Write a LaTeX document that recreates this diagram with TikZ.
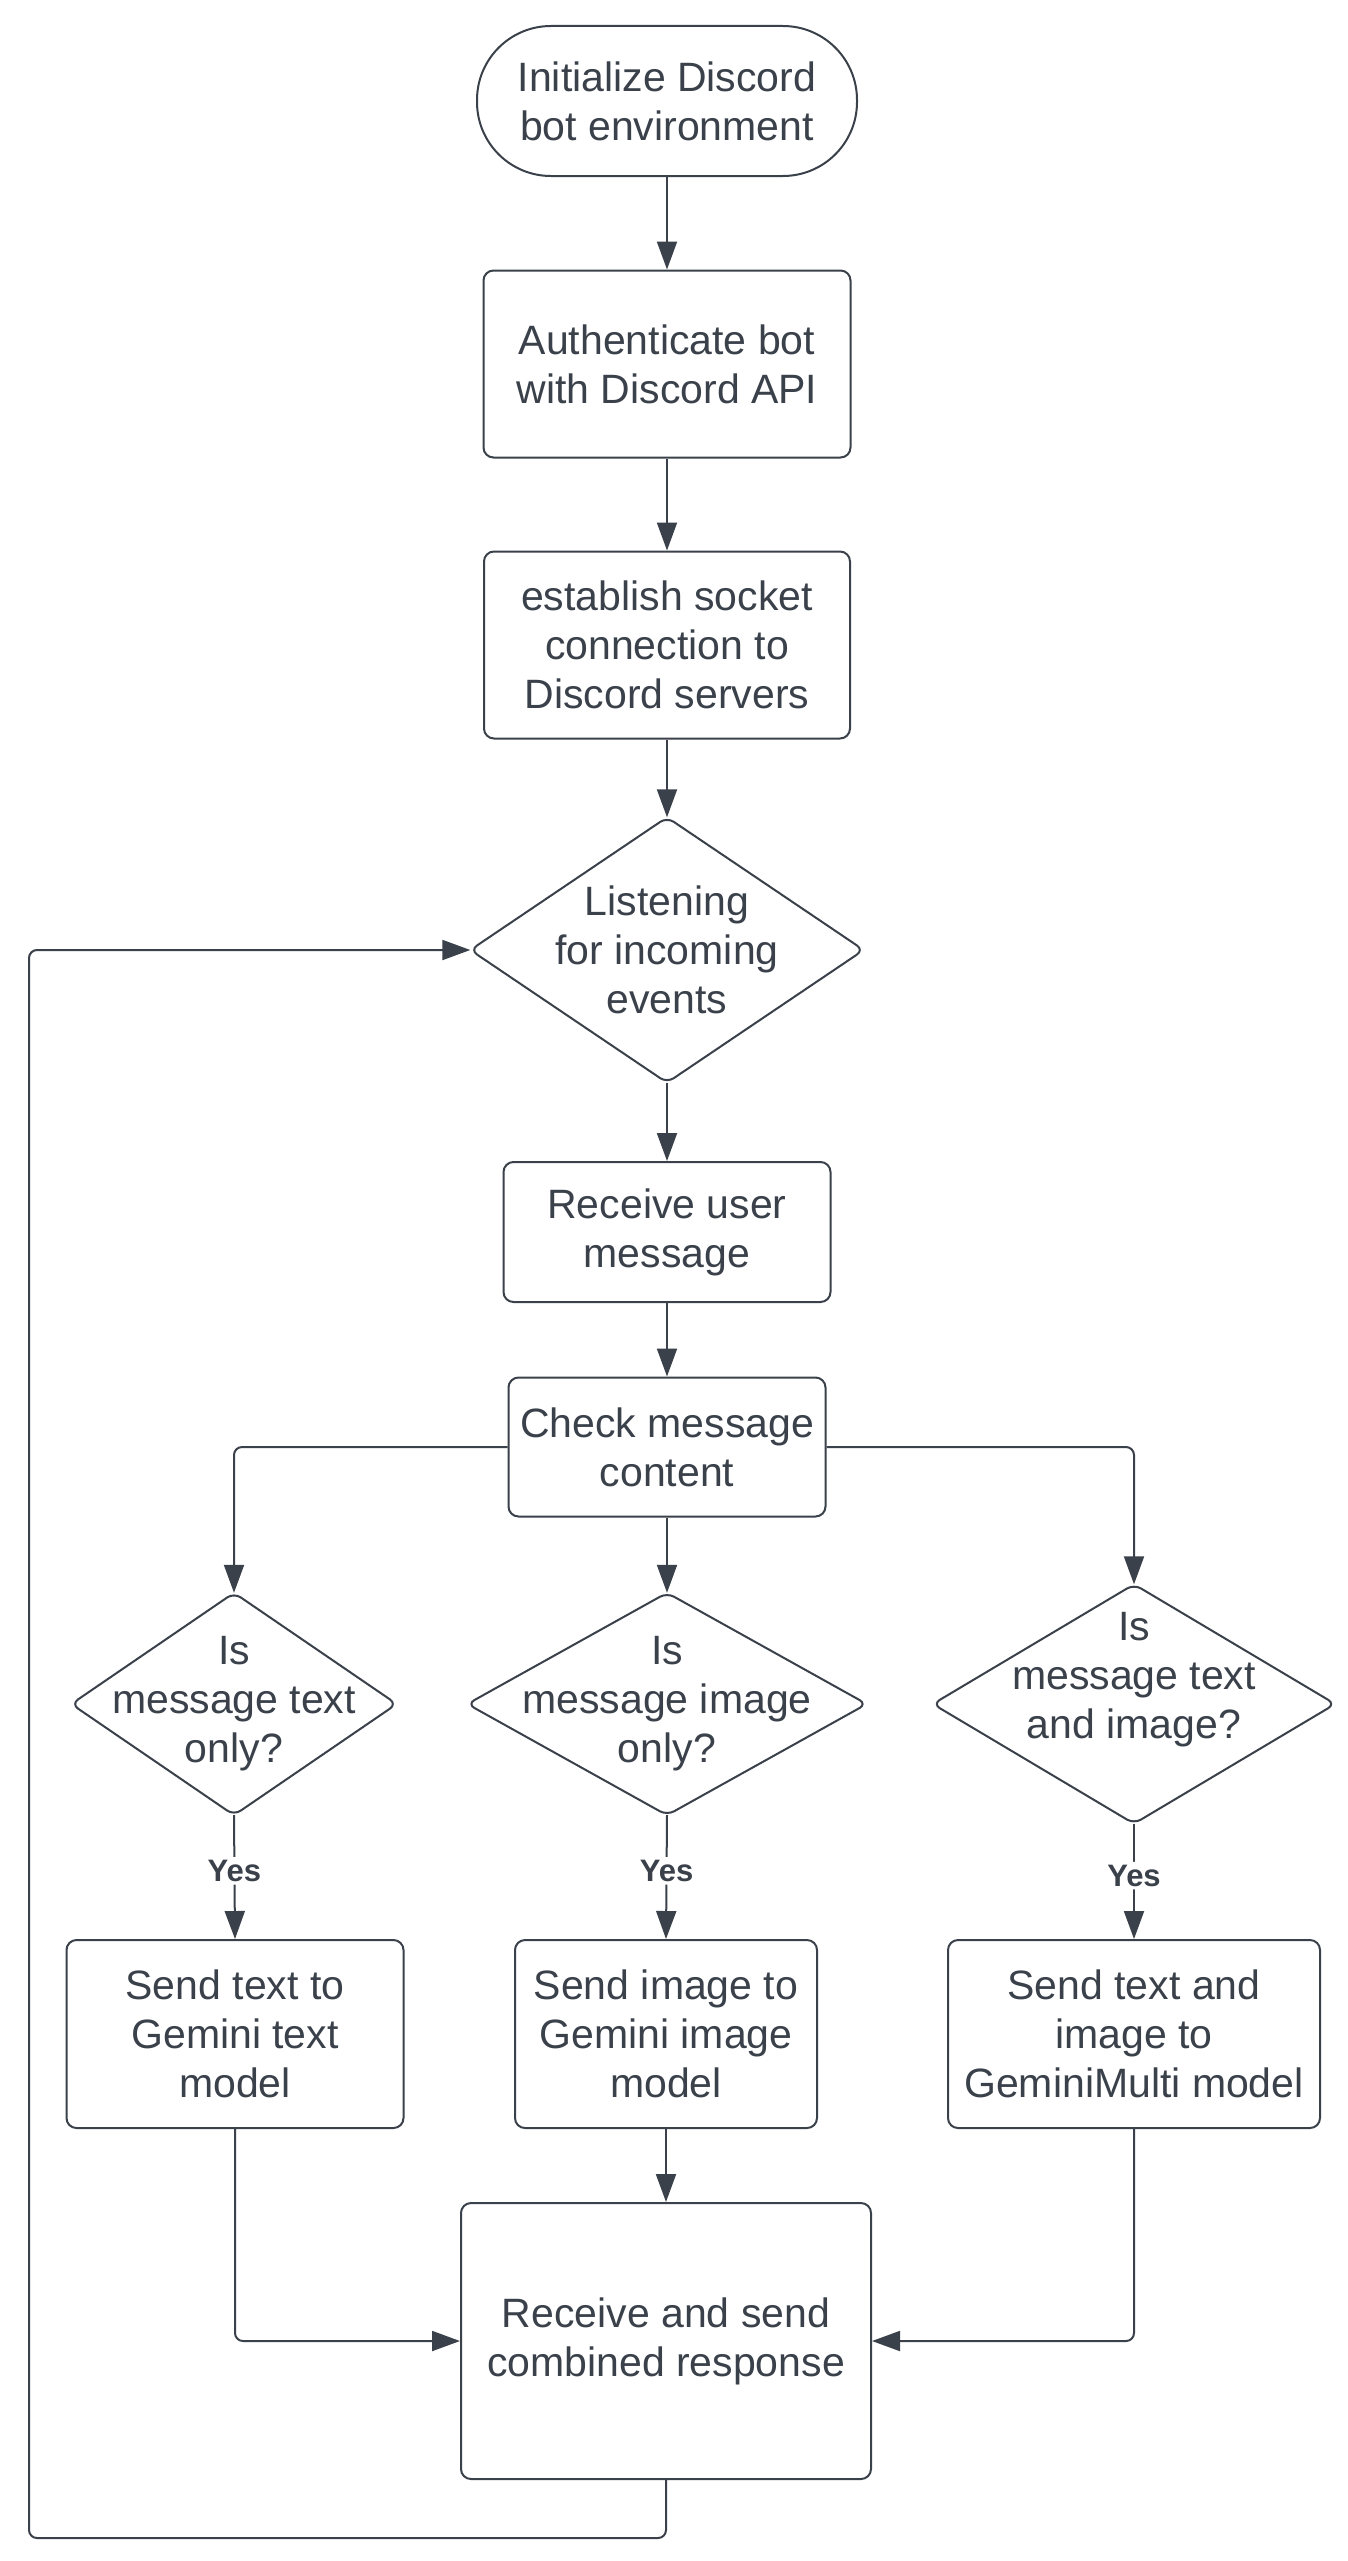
\documentclass[tikz,border=0pt]{standalone}
\usepackage{fontspec}
\setmainfont{Liberation Sans}
\usetikzlibrary{arrows.meta}
\definecolor{ink}{RGB}{58,65,74}

\begin{document}
\begin{tikzpicture}[x=1pt, y=-1pt,
    every node/.style={text=ink, font=\fontsize{41}{49}\selectfont, align=center, inner sep=0pt},
    proc/.style={draw=ink, line width=2pt, rounded corners=10pt, rectangle},
    term/.style={draw=ink, line width=2pt, rounded corners=74pt, rectangle, minimum width=380pt, minimum height=150pt},
    decide/.style={rectangle},
    yeslabel/.style={fill=white, font=\bfseries\fontsize{31}{37}\selectfont, inner sep=3pt, pos=0.45},
    arr/.style={draw=ink, line width=2pt, rounded corners=8pt, -{Triangle[length=28pt, width=20pt]}}]
  \useasboundingbox (0,0) rectangle (1348,2561);
  \node[term] (start) at (667,101) {Initialize Discord\\bot environment};
  \node[proc, minimum width=367pt, minimum height=187pt] (auth) at (667,364) {Authenticate bot\\with Discord API};
  \node[proc, minimum width=366pt, minimum height=187pt] (socket) at (667,645) {establish socket\\connection to\\Discord servers};
  \node[decide, minimum width=393pt, minimum height=265pt] (listen) at (667,950) {Listening\\for incoming\\events};
  \node[proc, minimum width=327pt, minimum height=140pt] (recv) at (667,1232) {Receive user\\message};
  \node[proc, minimum width=317pt, minimum height=139pt] (check) at (667,1447) {Check message\\content};
  \node[decide, minimum width=325pt, minimum height=222pt] (istext) at (234,1704) {Is\\message text\\only?};
  \node[decide, minimum width=399pt, minimum height=222pt] (isimage) at (667,1704) {Is\\message image\\only?};
  \node[decide, minimum width=402pt, minimum height=239pt, text depth=58pt] (isboth) at (1134,1704) {Is\\message text\\and image?};
  \node[proc, minimum width=337pt, minimum height=188pt] (sendtext) at (235,2034) {Send text to\\Gemini text\\model};
  \node[proc, minimum width=302pt, minimum height=188pt] (sendimage) at (666,2034) {Send image to\\Gemini image\\model};
  \node[proc, minimum width=372pt, minimum height=188pt] (sendboth) at (1134,2034) {Send text and\\image to\\GeminiMulti model};
  \node[proc, minimum width=410pt, minimum height=276pt] (combined) at (666,2341) {Receive and send\\combined response};
  \coordinate (loopcorner) at (29,2538);

  % diamond outlines
  \foreach \d in {listen, istext, isimage, isboth}
    \draw[ink, line width=2pt, rounded corners=8pt] (\d.north) -- (\d.east) -- (\d.south) -- (\d.west) -- cycle;

  \draw[arr] (start) -- (auth);
  \draw[arr] (auth) -- (socket);
  \draw[arr] (socket) -- (listen.north);
  \draw[arr] (listen.south) -- (recv);
  \draw[arr] (recv) -- (check);
  \draw[arr] (check.west) -| (istext.north);
  \draw[arr] (check.south) -- (isimage.north);
  \draw[arr] (check.east) -| (isboth.north);
  \draw[arr] (istext.south) -- node[yeslabel] {Yes} (sendtext.north);
  \draw[arr] (isimage.south) -- node[yeslabel] {Yes} (sendimage.north);
  \draw[arr] (isboth.south) -- node[yeslabel] {Yes} (sendboth.north);
  \draw[arr] (sendtext.south) |- (combined.west);
  \draw[arr] (sendimage.south) -- (combined.north);
  \draw[arr] (sendboth.south) |- (combined.east);
  \draw[arr] (combined.south) |- (loopcorner) |- (listen.west);
\end{tikzpicture}
\end{document}
